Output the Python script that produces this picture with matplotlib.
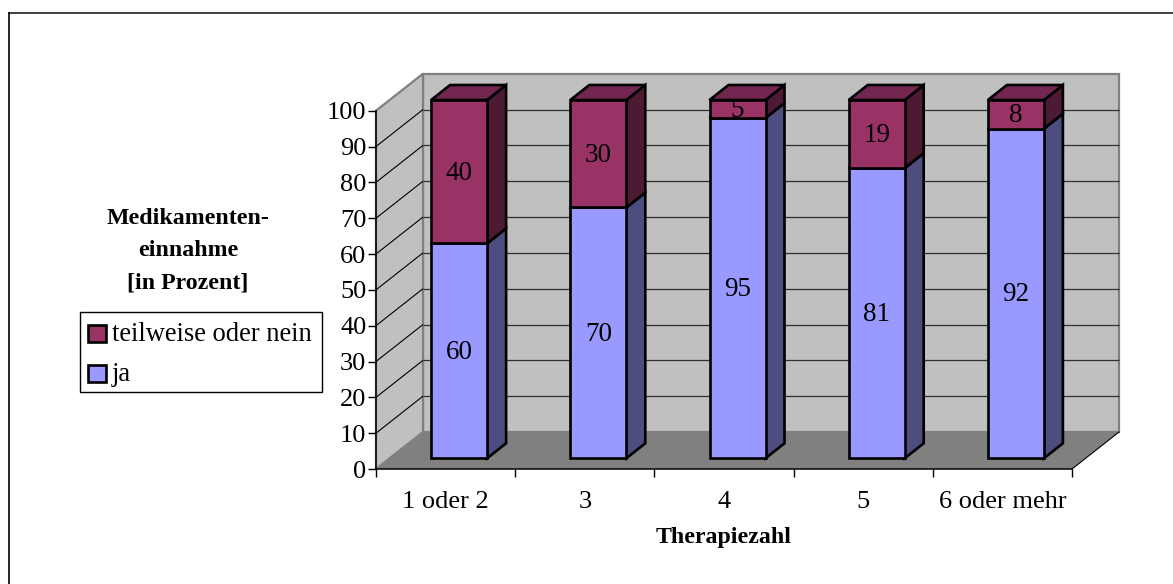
import matplotlib
matplotlib.use('Agg')
import matplotlib.pyplot as plt
from matplotlib.lines import Line2D
from matplotlib.patches import Polygon, Rectangle

# Daten
kategorien = ['1 oder 2', '3', '4', '5', '6 oder mehr']
ja = [60, 70, 95, 81, 92]
teilweise = [40, 30, 5, 19, 8]
y_ticks = list(range(0, 101, 10))

# Farben
c_ja = '#9999ff'
c_ja_side = '#4d4d80'
c_teil = '#993366'
c_teil_side = '#4d1a33'
c_teil_top = '#732650'
c_ja_top = '#7373bf'
c_wall = '#c0c0c0'
c_floor = '#808080'
c_rand = '#808080'

W, H = 1173, 584
plt.rcParams['font.family'] = ['Liberation Serif', 'DejaVu Serif']
fig = plt.figure(figsize=(W / 100, H / 100), dpi=100)


def fig_rect(x0, y0, x1, y1, fc, lw, z):
    # Rechteck in Pixeln des Bildes (y nach unten)
    fig.add_artist(Rectangle((x0 / W, 1 - y1 / H), (x1 - x0) / W, (y1 - y0) / H, transform=fig.transFigure,
                             fc=fc, ec='black', lw=lw, zorder=z))


# Rahmen: nur oben und links sichtbar
fig.add_artist(Line2D([8.5 / W, 1], [1 - 12.5 / H, 1 - 12.5 / H], color='#202020', lw=1.2))
fig.add_artist(Line2D([8.5 / W, 8.5 / W], [0, 1 - 12.5 / H], color='black', lw=1.2))

# Achse = vordere Ebene des 3D-Diagramms
left, right, top, bottom = 376, 1072, 110.7, 469
px_x = (right - left) / 5
px_y = (bottom - top) / 100
ax = fig.add_axes([left / W, 1 - bottom / H, (right - left) / W, (bottom - top) / H])
ax.set_xlim(0, 5)
ax.set_ylim(0, 100)
ax.patch.set_visible(False)
for s in ax.spines.values():
    s.set_visible(False)

# Tiefe in Datenkoordinaten
dx = 47 / px_x
dy = 37 / px_y


def poly(pts, fc, z=1, lw=1.0, ec='black'):
    ax.add_patch(Polygon(pts, closed=True, fc=fc, ec=ec, lw=lw, clip_on=False, zorder=z, joinstyle='miter'))


# Wand, Seite, Boden
poly([(dx, dy), (5 + dx, dy), (5 + dx, 100 + dy), (dx, 100 + dy)], c_wall, 1, 1.6, c_rand)
poly([(0, 0), (dx, dy), (dx, 100 + dy), (0, 100)], c_wall, 1, 1.6, c_rand)
poly([(0, 0), (5, 0), (5 + dx, dy), (dx, dy)], c_floor, 1.2, 0, c_floor)

# Gitterlinien
for v in y_ticks[1:-1]:
    ax.plot([0, dx], [v, v + dy], color='black', lw=0.8, clip_on=False, zorder=1.5, solid_capstyle='butt')
    ax.plot([dx, 5 + dx], [v + dy, v + dy], color='#303030', lw=0.9, clip_on=False, zorder=1.5,
            solid_capstyle='butt')
ax.plot([5, 5 + dx], [0, dy], color='black', lw=0.8, clip_on=False, zorder=1.5)

# Saeulen
bw = 56 / px_x
off_x = (1 - bw) / 2 + 13.5 / px_x
off_y = 10.7 / px_y
bdx = 19 / px_x
bdy = 15 / px_y
label_shift = 1.5 / px_y


def saeule(x0, y0, h, fc, side, top_c, label):
    x = x0 + off_x
    y = y0 + off_y
    poly([(x + bw, y), (x + bw + bdx, y + bdy), (x + bw + bdx, y + h + bdy), (x + bw, y + h)], side, 3, 1.9)
    poly([(x, y + h), (x + bw, y + h), (x + bw + bdx, y + h + bdy), (x + bdx, y + h + bdy)], top_c, 3, 1.9)
    poly([(x, y), (x + bw, y), (x + bw, y + h), (x, y + h)], fc, 4, 1.9)
    ax.text(x + bw / 2, y + h / 2 - label_shift, str(label), ha='center', va='center', fontsize=19.5, zorder=6)


for i, kat in enumerate(kategorien):
    saeule(i, 0, ja[i], c_ja, c_ja_side, c_ja_top, ja[i])
    saeule(i, ja[i], teilweise[i], c_teil, c_teil_side, c_teil_top, teilweise[i])

# Achsen
ax.plot([0, 0], [0, 100], color='black', lw=1.1, clip_on=False, zorder=5)
ax.plot([0, 5], [0, 0], color='black', lw=1.1, clip_on=False, zorder=5)
ax.set_yticks(y_ticks)
ax.set_xticks(range(6))
ax.set_xticklabels([])
ax.set_xticks([i + 0.5 for i in range(5)], minor=True)
ax.set_xticklabels(kategorien, minor=True)
ax.tick_params(axis='x', which='minor', length=0, labelsize=19, pad=15.5)
ax.tick_params(axis='x', which='major', length=6, width=1, direction='out')
ax.tick_params(axis='y', length=6, width=1, labelsize=19, pad=1)
ax.xaxis.get_major_ticks()[-1].tick1line.set_color(c_rand)

# Achsentitel
fig.text(724 / W, 1 - 537.5 / H, 'Therapiezahl', ha='center', va='center', fontsize=17.2, fontweight='bold')
fig.text(188 / W, 1 - 218.5 / H, 'Medikamenten-', ha='center', va='center', fontsize=17.2, fontweight='bold')
fig.text(188 / W, 1 - 250.5 / H, 'einnahme', ha='center', va='center', fontsize=17.2, fontweight='bold')
fig.text(188 / W, 1 - 282.5 / H, '[in Prozent]', ha='center', va='center', fontsize=17.2, fontweight='bold')

# Legende
fig_rect(79.5, 312, 322, 392, 'white', 1, 5)
for yy, col, txt in [(333, c_teil, 'teilweise oder nein'), (373, c_ja, 'ja')]:
    fig_rect(88, yy - 8.5, 105.5, yy + 8.5, col, 1.9, 6)
    fig.text(112 / W, 1 - (yy + 1.5) / H, txt, ha='left', va='center', fontsize=19.1, zorder=7)

fig.savefig('out.png', dpi=100)
